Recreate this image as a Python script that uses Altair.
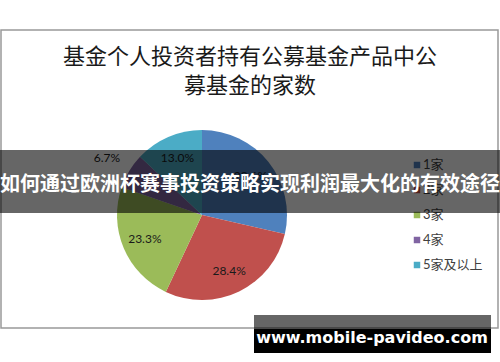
import altair as alt
import pandas as pd

# ---- data ----
categories = ["1家", "2家", "3家", "4家", "5家及以上"]
shares = [28.6, 28.4, 23.3, 6.7, 13.0]
colors = ["#4F81BD", "#C0504D", "#9BBB59", "#8064A2", "#4BACC6"]
title_lines = ["基金个人投资者持有公募基金产品中公", "募基金的家数"]
banner_text = ["如何通过欧洲杯赛事投资策略实现利润最大化的有效途径"]
watermark_text = ["www.mobile-pavideo.com"]

df = pd.DataFrame({"cat": categories, "value": shares, "idx": list(range(len(categories)))})
one = pd.DataFrame({"a": [0]})

CX, CY = 202, 215
color_scale = alt.Scale(domain=categories, range=colors)
theta_scale = alt.Scale(domain=[0, 100])

base = alt.Chart(df)

pie = base.mark_arc(outerRadius=85).encode(
    theta=alt.Theta("value:Q", stack=True, scale=theta_scale),
    color=alt.Color("cat:N", sort=categories, scale=color_scale, legend=None),
    order=alt.Order("idx:Q"),
    x=alt.value(CX),
    y=alt.value(CY),
)

labels = base.transform_stack(
    stack="value", groupby=[], as_=["v0", "v1"], sort=[alt.SortField("idx", order="ascending")]
).transform_calculate(
    mid="(datum.v0 + datum.v1) / 2",
    r="datum.value < 10 ? 111 : 62",
    lab="format(datum.value, '.1f') + '%'",
).mark_text(font="Lato", fontSize=12, color="#1a1a1a").encode(
    theta=alt.Theta("mid:Q", scale=theta_scale),
    radius=alt.Radius("r:Q", scale=None),
    text="lab:N",
    x=alt.value(CX),
    y=alt.value(CY),
)

leg_y = alt.Y("cat:N", sort=categories, scale=alt.Scale(range=[165, 265], padding=0), axis=None)

leg_sq = base.mark_square(size=42, opacity=1).encode(
    x=alt.value(417),
    y=leg_y,
    color=alt.Color("cat:N", sort=categories, scale=color_scale, legend=None),
)
leg_tx = base.mark_text(align="left", baseline="middle", font="Lato, 'Noto Sans CJK SC'",
                        fontSize=13, color="#404040").encode(
    x=alt.value(423),
    y=leg_y,
    text="cat:N",
)

border = alt.Chart(one).mark_rect(fill="transparent", stroke="#999999", strokeWidth=1.5).encode(
    x=alt.value(1), x2=alt.value(498), y=alt.value(30), y2=alt.value(328)
)

t1 = alt.Chart(pd.DataFrame({"t": [title_lines[0]]})).mark_text(
    font="Noto Sans CJK SC", fontSize=22, color="#1a1a1a", baseline="middle").encode(
    text="t:N", x=alt.value(250), y=alt.value(57))
t2 = alt.Chart(pd.DataFrame({"t": [title_lines[1]]})).mark_text(
    font="Noto Sans CJK SC", fontSize=22, color="#1a1a1a", baseline="middle").encode(
    text="t:N", x=alt.value(250), y=alt.value(86))

banner = alt.Chart(one).mark_rect(color="black", opacity=0.6).encode(
    x=alt.value(0), x2=alt.value(500), y=alt.value(150), y2=alt.value(213)
)
banner_t = alt.Chart(pd.DataFrame({"t": banner_text})).mark_text(
    font="Noto Sans CJK SC", fontSize=20, fontWeight="bold", color="white", baseline="middle").encode(
    text="t:N", x=alt.value(250), y=alt.value(185))

wm_gray = alt.Chart(one).mark_rect(color="black", opacity=0.6).encode(
    x=alt.value(254), x2=alt.value(491), y=alt.value(315), y2=alt.value(329)
)
wm_black = alt.Chart(one).mark_rect(color="black", opacity=1).encode(
    x=alt.value(254), x2=alt.value(491), y=alt.value(329), y2=alt.value(353)
)
wm_t = alt.Chart(pd.DataFrame({"t": watermark_text})).mark_text(
    font="DejaVu Sans", fontSize=16, fontWeight="bold", color="white", baseline="middle").encode(
    text="t:N", x=alt.value(372), y=alt.value(338))

chart = alt.layer(
    border, t1, t2, pie, labels, leg_sq, leg_tx, banner, banner_t, wm_gray, wm_black, wm_t
).properties(
    width=500, height=362, autosize=alt.AutoSizeParams(type="none"), padding=0, background="white"
).configure_view(strokeWidth=0)

chart.save("out.html", embed_options={"renderer": "svg", "actions": False})
